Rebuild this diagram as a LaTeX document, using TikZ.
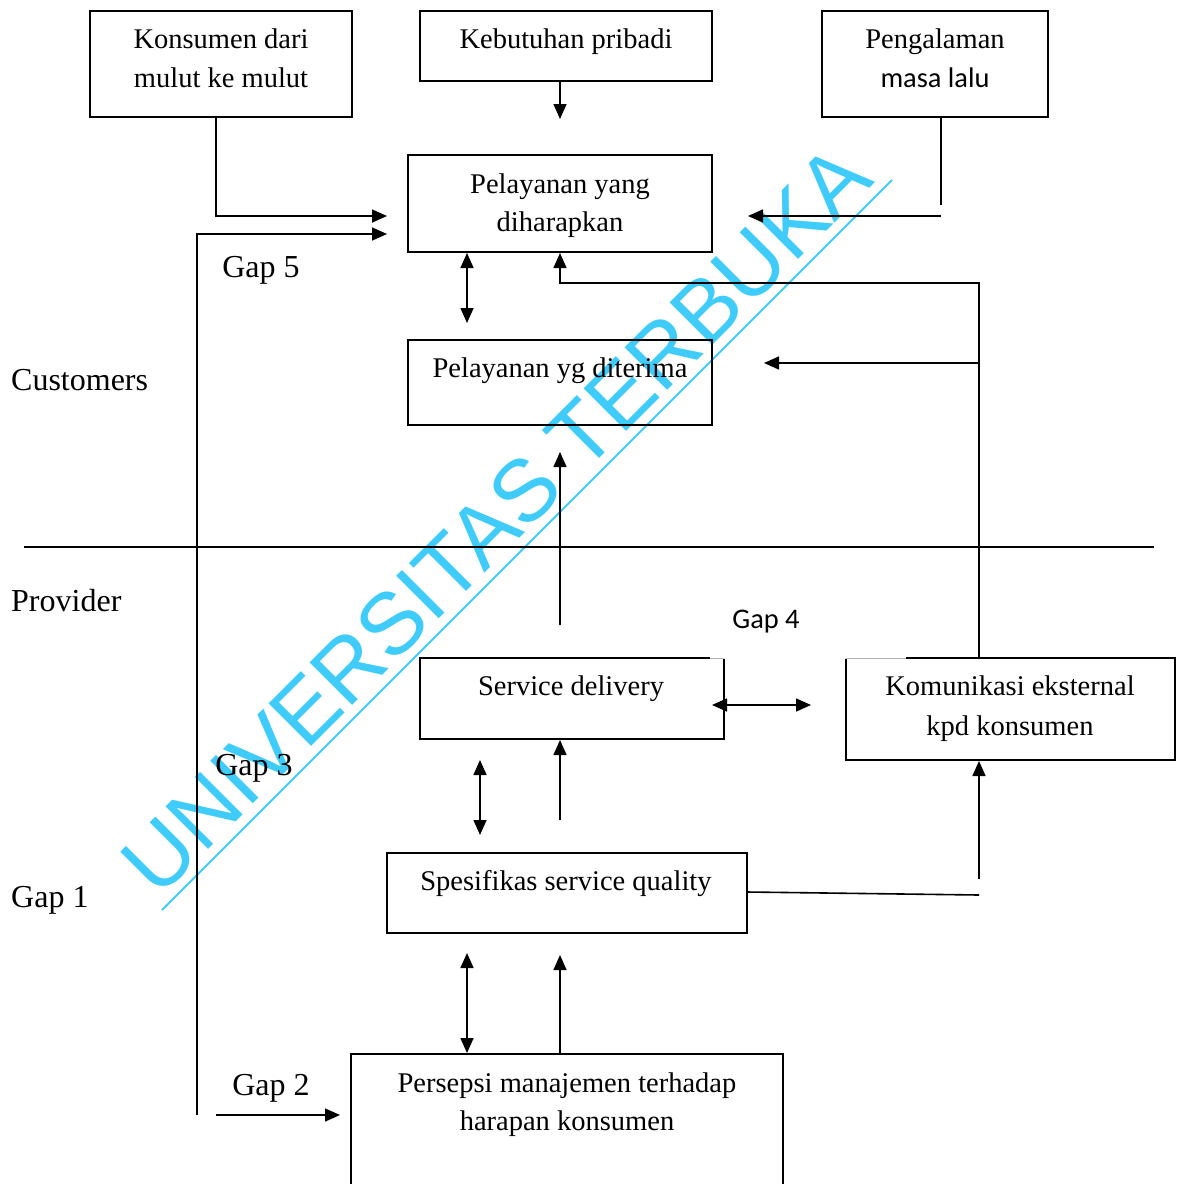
\documentclass[tikz,border=0pt]{standalone}
\usepackage{fontspec}
\setmainfont{Liberation Serif}
\newfontfamily\calfont{Carlito}
\newfontfamily\wmfont{Liberation Sans}
\usetikzlibrary{arrows.meta}
\definecolor{wmcyan}{RGB}{64,204,250}
\begin{document}
\begin{tikzpicture}[x=1pt,y=-1pt,
  box/.style={draw, line width=1.5pt, inner sep=0pt, rectangle},
  txt/.style={anchor=base, inner sep=0pt, font=\fontsize{28.5}{39}\selectfont},
  big/.style={anchor=base west, inner sep=0pt, font=\fontsize{32}{38}\selectfont},
  sans/.style={anchor=base, inner sep=0pt, font=\calfont\fontsize{28.4}{34}\selectfont},
  ln/.style={line width=1.6pt},
  arr/.style={line width=1.6pt, -{Triangle[length=15pt,width=13pt]}},
  darr/.style={line width=1.6pt, {Triangle[length=15pt,width=13pt]}-{Triangle[length=15pt,width=13pt]}},
  wm/.style={text=wmcyan, inner sep=0pt, font=\wmfont\fontsize{87.5}{90}\selectfont}
]
\useasboundingbox (0,0) rectangle (1178,1184);
\clip (0,0) rectangle (1178,1184);
\fill[white] (0,0) rectangle (1178,1184);

% watermark
\node[wm, rotate=45, anchor=base west] (wmtext) at (158.5,899.4) {UNIVERSITAS TERBUKA};
\coordinate (wmA) at (162,910);
\coordinate (wmB) at (892,180);
\draw[wmcyan, line width=2pt] (wmA) -- (wmB);

% boxes
\node[box, minimum width=262pt, minimum height=106pt] (kon) at (221,64) {};
\node[box, minimum width=292pt, minimum height=70pt] (keb) at (566,46) {};
\node[box, minimum width=226pt, minimum height=106pt] (pen) at (935,64) {};
\node[box, minimum width=304pt, minimum height=97pt] (har) at (560,203.5) {};
\node[box, minimum width=304pt, minimum height=85pt] (ter) at (560,382.5) {};
\node[box, minimum width=304pt, minimum height=81pt] (sd) at (572,698.5) {};
\node[box, minimum width=329pt, minimum height=102pt] (kom) at (1010.5,709) {};
\node[box, minimum width=360pt, minimum height=80pt] (spe) at (567,893) {};
\node[box, minimum width=432pt, minimum height=146pt] (per) at (567,1127) {};

% faint corner gaps on top edges
\draw[white, line width=2.2pt] (710,658) -- (725,658);
\draw[gray!60, line width=0.6pt] (710,658) -- (724,658);
\draw[white, line width=2.2pt] (845,658) -- (906,658);
\draw[gray!60, line width=0.6pt] (846,658) -- (906,658);

% box texts
\node[txt] (t1a) at (221,48) {Konsumen dari};
\node[txt] (t1b) at (221,87) {mulut ke mulut};
\node[txt] (t2) at (566,48) {Kebutuhan pribadi};
\node[txt] (t3a) at (935,48) {Pengalaman};
\node[sans] (t3b) at (935,87) {masa lalu};
\node[txt] (t4a) at (560,193) {Pelayanan yang};
\node[txt] (t4b) at (560,231) {diharapkan};
\node[txt] (t5) at (560,377) {Pelayanan yg diterima};
\node[txt] (t6) at (571,695) {Service delivery};
\node[txt] (t7a) at (1010,695) {Komunikasi eksternal};
\node[txt] (t7b) at (1010,735) {kpd konsumen};
\node[txt] (t8) at (566,890) {Spesifikas service quality};
\node[txt] (t9a) at (567,1092) {Persepsi manajemen terhadap};
\node[txt] (t9b) at (567,1130) {harapan konsumen};

% side labels
\node[big] (cust) at (11,390) {Customers};
\node[big] (prov) at (11,611) {Provider};
\node[big] (g1) at (11,907) {Gap 1};
\node[big, anchor=base] (g5) at (261,277) {Gap 5};
\node[big, anchor=base] (g3) at (254,775) {Gap 3};
\node[big, anchor=base] (g2) at (271,1095) {Gap 2};
\node[sans] (g4) at (766,628) {Gap 4};

% coordinates for connectors
\coordinate (kebS) at (560,81);
\coordinate (harN) at (560,119);
\coordinate (konS) at (216,117);
\coordinate (harW1) at (387,216);
\coordinate (loopB) at (197,1115);
\coordinate (harW2) at (387,234);
\coordinate (penS) at (941,117);
\coordinate (penE) at (941,205);
\coordinate (penH) at (941,216);
\coordinate (harE) at (748,216);
\coordinate (d1a) at (467,253);
\coordinate (d1b) at (467,323);
\coordinate (komN) at (979,658);
\coordinate (fbT) at (979,283);
\coordinate (fbL) at (560,283);
\coordinate (harS) at (560,253);
\coordinate (fb2) at (979,363);
\coordinate (terE) at (764,363);
\coordinate (up1a) at (560,625);
\coordinate (terS) at (560,452);
\coordinate (divL) at (24,547);
\coordinate (divR) at (1154,547);
\coordinate (d2a) at (712,705);
\coordinate (d2b) at (811,705);
\coordinate (d3a) at (480,760);
\coordinate (d3b) at (480,835);
\coordinate (up2a) at (560,820);
\coordinate (sdS) at (560,740);
\coordinate (speE) at (747,892);
\coordinate (speR) at (979,895);
\coordinate (up3a) at (979,879);
\coordinate (komS) at (979,761);
\coordinate (d4a) at (467,953);
\coordinate (d4b) at (467,1053);
\coordinate (perN) at (560,1054);
\coordinate (speS) at (560,955);
\coordinate (g2a) at (216,1115);
\coordinate (perW) at (340,1115);

% connectors
\draw[arr] (kebS) -- (harN);
\draw[arr] (konS) |- (harW1);
\draw[arr] (loopB) |- (harW2);
\draw[ln] (penS) -- (penE);
\draw[arr] (penH) -- (harE);
\draw[darr] (d1a) -- (d1b);
\draw[arr] (komN) -- (fbT) -- (fbL) -- (harS);
\draw[arr] (fb2) -- (terE);
\draw[arr] (up1a) -- (terS);
\draw[ln] (divL) -- (divR);
\draw[darr] (d2a) -- (d2b);
\draw[darr] (d3a) -- (d3b);
\draw[arr] (up2a) -- (sdS);
\draw[ln] (speE) -- (speR);
\draw[arr] (up3a) -- (komS);
\draw[darr] (d4a) -- (d4b);
\draw[arr] (perN) -- (speS);
\draw[arr] (g2a) -- (perW);
\end{tikzpicture}
\end{document}
